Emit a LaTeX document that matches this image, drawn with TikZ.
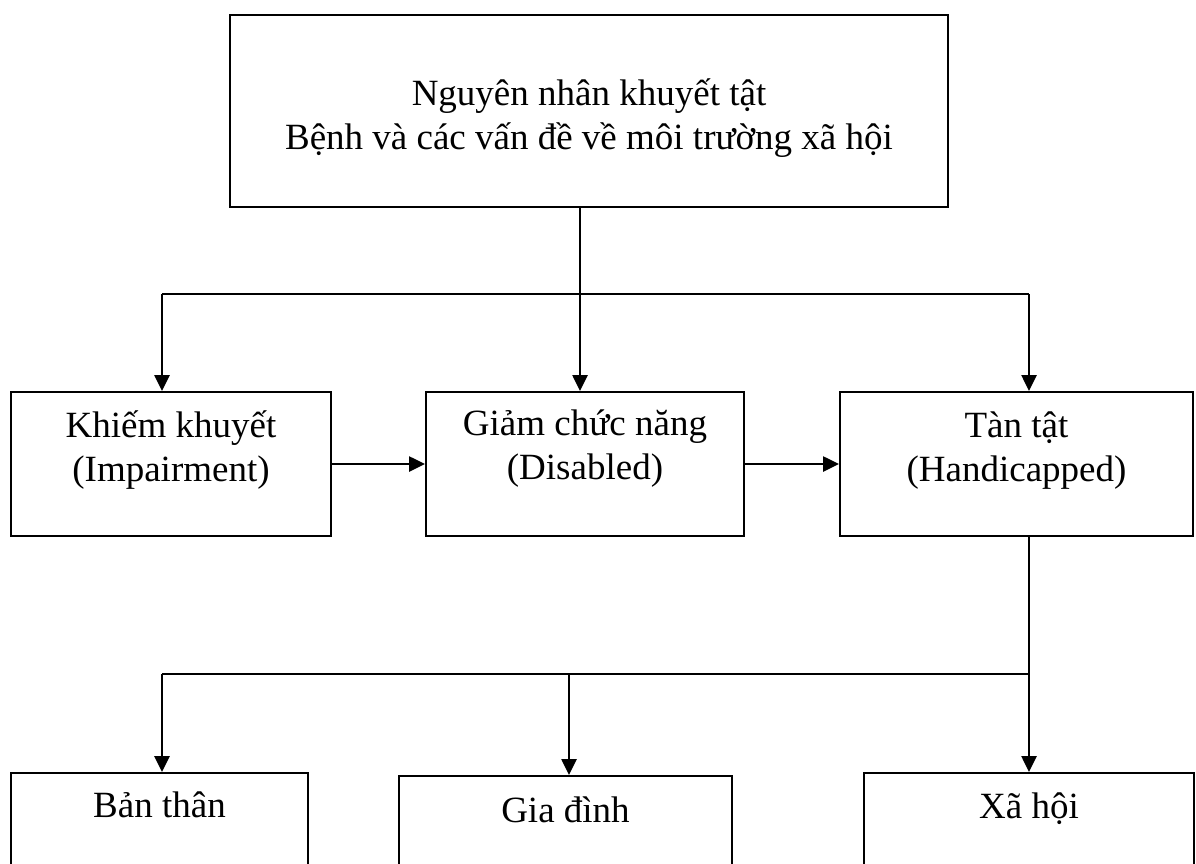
\documentclass[tikz,border=0pt]{standalone}
\usepackage{fontspec}
\setmainfont{Liberation Serif}
\usetikzlibrary{arrows.meta}
\begin{document}
\begin{tikzpicture}[x=1pt,y=-1pt,
  boxnode/.style={draw=black, line width=2pt, rectangle, inner sep=0pt},
  txt/.style={font=\fontsize{37}{44}\selectfont, inner sep=0pt, align=center, anchor=base},
  conn/.style={line width=2.6pt, draw=black},
  arr/.style={conn, -{Triangle[length=16pt,width=15pt]}}]
\useasboundingbox (0,0) rectangle (1196,863);
\clip (0,0) rectangle (1196,863);
% boxes
\node[boxnode, minimum width=718pt, minimum height=192pt] (top) at (589,111) {};
\node[boxnode, minimum width=320pt, minimum height=144pt] (b1) at (171,464) {};
\node[boxnode, minimum width=318pt, minimum height=144pt] (b2) at (585,464) {};
\node[boxnode, minimum width=353pt, minimum height=144pt] (b3) at (1016.5,464) {};
\node[boxnode, minimum width=297pt, minimum height=200pt] (c1) at (159.5,873) {};
\node[boxnode, minimum width=333pt, minimum height=200pt] (c2) at (565.5,876) {};
\node[boxnode, minimum width=330pt, minimum height=200pt] (c3) at (1029,873) {};
% texts (anchor = baseline of last line)
\node[txt] (ttop) at (589,149) {Nguyên nhân khuyết tật\\Bệnh và các vấn đề về môi trường xã hội};
\node[txt] (tb1) at (171,481) {Khiếm khuyết\\(Impairment)};
\node[txt] (tb2) at (585,479) {Giảm chức năng\\(Disabled)};
\node[txt] (tb3) at (1016.5,481) {Tàn tật\\(Handicapped)};
\node[txt] (tc1) at (159.5,817) {Bản thân};
\node[txt] (tc2) at (565.5,822) {Gia đình};
\node[txt] (tc3) at (1029,818) {Xã hội};
% junction coordinates
\coordinate (j0) at (580,294);
\coordinate (j1) at (162,294);
\coordinate (j3) at (1029,294);
\coordinate (k3) at (1029,674);
\coordinate (k1) at (162,674);
\coordinate (k2) at (569,674);
% connectors
\draw[conn] (top.south -| j0) -- (j0);
\draw[conn] (j1) -- (j3);
\draw[arr] (j1) -- (j1 |- b1.north);
\draw[arr] (j0) -- (j0 |- b2.north);
\draw[arr] (j3) -- (j3 |- b3.north);
\draw[arr] (b1.east) -- (b2.west);
\draw[arr] (b2.east) -- (b3.west);
\draw[arr] (b3.south -| k3) -- (k3 |- c3.north);
\draw[conn] (k1) -- (k3);
\draw[arr] (k1) -- (k1 |- c1.north);
\draw[arr] (k2) -- (k2 |- c2.north);
\end{tikzpicture}
\end{document}
